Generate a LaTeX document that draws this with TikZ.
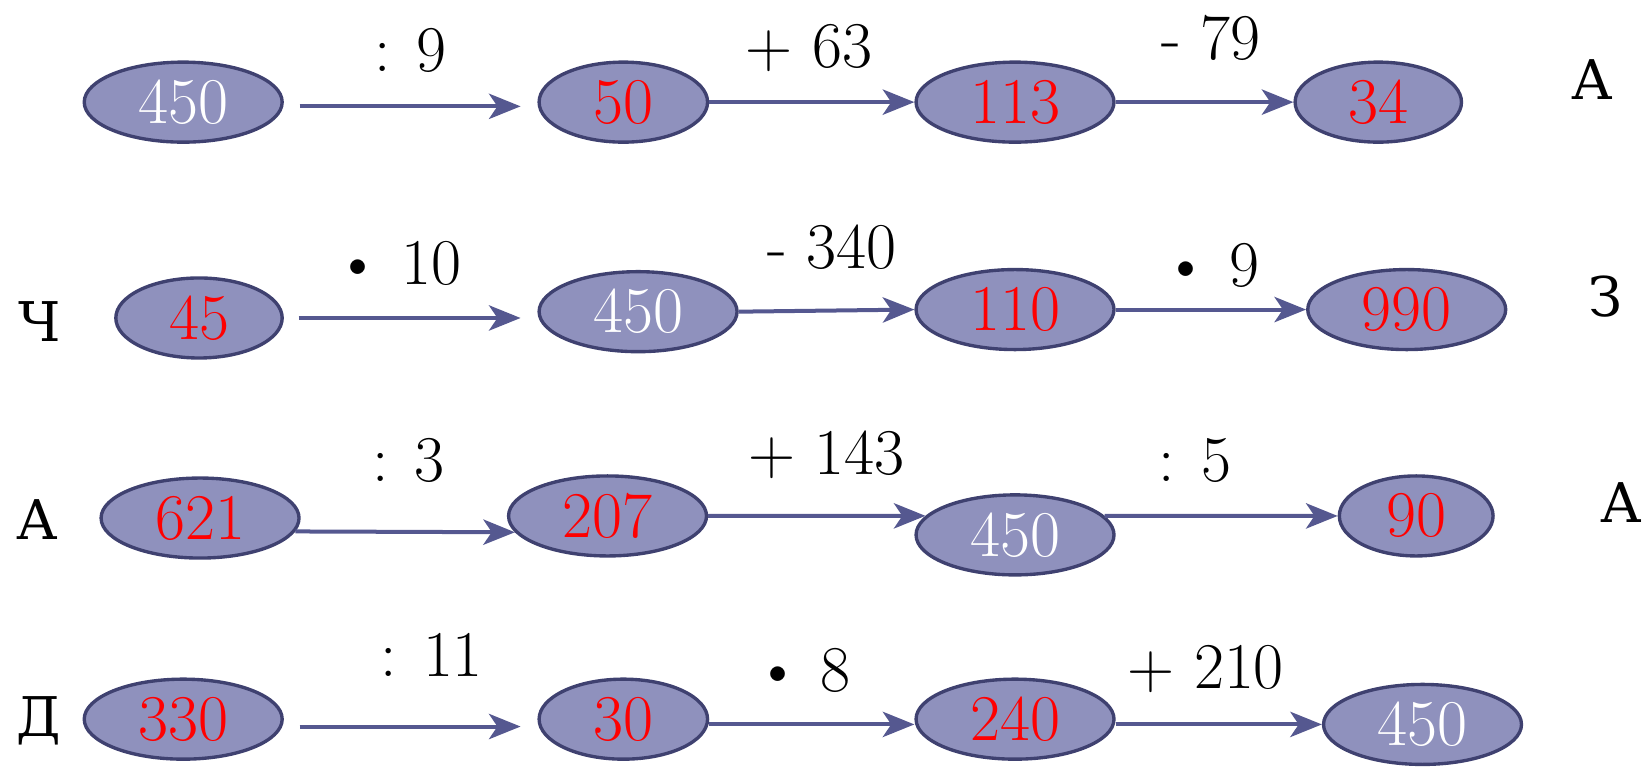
\documentclass[tikz,border=0pt]{standalone}
\usepackage{fontspec}
\newfontfamily\cyr{DejaVu Serif}
\usetikzlibrary{shapes.geometric,arrows.meta}
\definecolor{ovalfill}{HTML}{8F91BD}
\definecolor{ovalline}{HTML}{3F4170}
\definecolor{arrowcol}{HTML}{555890}
\begin{document}
\begin{tikzpicture}[
x=0.5pt,y=-0.5pt,
oval/.style={ellipse,draw=ovalline,fill=ovalfill,line width=1.6pt,inner sep=0pt,
  minimum width=94pt,minimum height=38pt,font=\rmfamily\fontsize{31}{34}\selectfont},
num/.style={oval,text=red},
given/.style={oval,text=white},
op/.style={font=\rmfamily\fontsize{31}{34}\selectfont},
letter/.style={font=\cyr\fontsize{26}{32}\selectfont},
conn/.style={-{Stealth[length=15pt,width=12pt,inset=4pt]},draw=arrowcol,line width=1.9pt},
]
\useasboundingbox (0,0) rectangle (1568,733);
%row 1
\node[given]at(174,97)(e11){450};
\node[num,minimum width=80pt]at(592,97)(e12){50};
\node[num]at(964,97)(e13){113};
\node[num,minimum width=79pt]at(1309,97)(e14){34};
\node[letter]at(1512,76)(s1){А};
\node[op]at(390,48)(o11){: 9};
\node[op]at(768,46)(o12){+ 63};
\node[op]at(1150,36)(o13){- 79};
\draw[conn,shorten >=8pt]([shift={(15,4)}]e11.east)--([shift={(0,4)}]e12.west);
\draw[conn](e12.east)--(e13.west);
\draw[conn](e13.east)--(e14.west);
%row 2
\node[letter]at(38,305)(s2){Ч};
\node[num,minimum width=79pt]at(189,302)(e21){45};
\node[given]at(606,296)(e22){450};
\node[num]at(964,294)(e23){110};
\node[num]at(1336,294)(e24){990};
\node[letter]at(1525,282)(s3){З};
\node[op]at(378,250)(o21){\textbullet\ 10};
\node[op]at(790,235)(o22){- 340};
\node[op]at(1150,252)(o23){\textbullet\ 9};
\draw[conn,shorten >=8pt]([xshift=7pt]e21.east)--([shift={(0,6)}]e22.west);
\draw[conn](e22.east)--(e23.west);
\draw[conn](e23.east)--(e24.west);
%row 3
\node[letter]at(35,493)(s4){А};
\node[num]at(190,492)(e31){621};
\node[num]at(577,490)(e32){207};
\node[given]at(964,508)(e33){450};
\node[num,minimum width=73pt]at(1345,490)(e34){90};
\node[letter]at(1540,477)(s5){А};
\node[op]at(388,437)(o31){: 3};
\node[op]at(785,432)(o32){+ 143};
\node[op]at(1135,437)(o33){: 5};
\draw[conn](e31.-8)--(e32.190);
\draw[conn](e32.east)--(e33.168);
\draw[conn](e33.12)--(e34.west);
%row 4
\node[letter]at(37,685)(s6){Д};
\node[num]at(174,683)(e41){330};
\node[num,minimum width=80pt]at(592,683)(e42){30};
\node[num]at(964,683)(e43){240};
\node[given]at(1351,688)(e44){450};
\node[op]at(410,622)(o41){: 11};
\node[op]at(762,637)(o42){\textbullet\ 8};
\node[op]at(1145,635)(o43){+ 210};
\draw[conn,shorten >=8pt]([shift={(15,7)}]e41.east)--([shift={(0,7)}]e42.west);
\draw[conn]([shift={(0,5)}]e42.east)--([shift={(0,5)}]e43.west);
\draw[conn]([shift={(0,5)}]e43.east)--(e44.west);
\end{tikzpicture}
\end{document}
